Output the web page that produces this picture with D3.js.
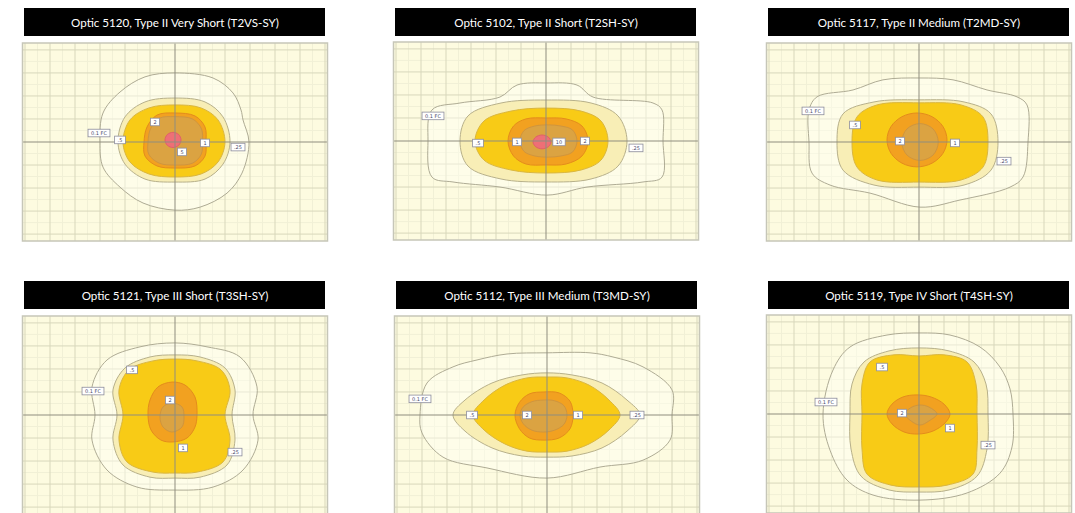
<!DOCTYPE html>
<html>
<head>
<meta charset="utf-8">
<script src="https://cdn.jsdelivr.net/npm/d3@7"></script>
<style>
  html, body { margin: 0; padding: 0; background: #ffffff; }
  svg { display: block; }
</style>
</head>
<body>
<svg id="chart" width="1075" height="513"></svg>
<script>
// Isofootcandle plots for six street-light optics.
// Contour points are in mounting-height units, measured from the luminaire.

const titles = [
  "Optic 5120, Type II Very Short (T2VS-SY)",
  "Optic 5102, Type II Short (T2SH-SY)",
  "Optic 5117, Type II Medium (T2MD-SY)",
  "Optic 5121, Type III Short (T3SH-SY)",
  "Optic 5112, Type III Medium (T3MD-SY)",
  "Optic 5119, Type IV Short (T4SH-SY)"
];

// footcandle level of each contour, outermost first
const fcLevels = ["0.1", "0.25", "0.5", "1", "2", "5"];

// grid lines (mounting heights)
const gridMajorX = [-6, -5, -4, -3, -2, -1, 0, 1, 2, 3, 4, 5, 6];
const gridMajorY = [-4, -3, -2, -1, 0, 1, 2, 3, 4];
const gridMinorX = [-5.5, -4.5, -3.5, -2.5, -1.5, -0.5, 0.5, 1.5, 2.5, 3.5, 4.5, 5.5];
const gridMinorY = [-3.5, -2.5, -1.5, -0.5, 0.5, 1.5, 2.5, 3.5];

// ---- Optic 5120, T2VS ----
const contoursT2VS = [
  [[2.96,0],[2.72,0.96],[2.64,1.39],[2.32,2.13],[1.52,2.78],[0,3.0],[-1.2,2.83],[-2.2,2.17],[-2.88,1.26],[-3.0,0],[-2.88,-1.09],[-2.2,-1.96],[-1.28,-2.65],[0,-2.96],[1.0,-2.83],[2.08,-2.22],[2.68,-1.35]],
  [[2.2,0],[1.92,1.09],[1.2,1.74],[0,1.91],[-1.2,1.74],[-2.0,1.09],[-2.28,0],[-2.0,-0.96],[-1.2,-1.61],[0,-1.74],[1.2,-1.61],[1.92,-0.96]],
  [[2.0,0],[1.72,0.96],[1.04,1.48],[0,1.61],[-1.04,1.48],[-1.8,0.96],[-2.08,0],[-1.8,-0.87],[-1.04,-1.39],[0,-1.52],[1.04,-1.39],[1.72,-0.87]],
  [[1.24,0],[1.2,0.65],[0.8,1.13],[0,1.26],[-0.72,1.17],[-1.12,0.65],[-1.24,0],[-1.2,-0.61],[-0.72,-1.04],[0,-1.13],[0.8,-1.04],[1.2,-0.61]],
  [[1.1,0],[1.06,0.57],[0.7,1.0],[0,1.1],[-0.63,1.03],[-0.98,0.57],[-1.08,0],[-1.05,-0.53],[-0.63,-0.92],[0,-1.0],[0.7,-0.92],[1.05,-0.53]],
  [[0.24,0.09],[0.15,0.32],[-0.08,0.42],[-0.31,0.32],[-0.4,0.09],[-0.31,-0.14],[-0.08,-0.24],[0.15,-0.14]]
];
const labelsT2VS = [
  { text: "0.1 FC", x: -3.04, y: 0.39 },
  { text: ".5", x: -2.2, y: 0.09 },
  { text: "2", x: -0.8, y: 0.87 },
  { text: "1", x: 1.2, y: -0.04 },
  { text: "5", x: 0.28, y: -0.43 },
  { text: ".25", x: 2.52, y: -0.22 }
];

// ---- Optic 5102, T2SH ----
const contoursT2SH = [
  [[4.68,0],[4.64,1.35],[4.28,1.65],[1.88,1.91],[1.24,2.43],[0.04,2.52],[-1.16,2.43],[-1.84,1.91],[-3.44,1.65],[-4.56,1.35],[-4.72,0],[-4.56,-1.57],[-3.72,-1.78],[-1.84,-2.0],[0.04,-2.35],[1.64,-2.0],[3.88,-1.78],[4.64,-1.57]],
  [[3.24,0],[2.88,1.09],[1.8,1.65],[0,1.78],[-1.8,1.65],[-3.12,1.09],[-3.44,0],[-3.12,-1.09],[-1.8,-1.65],[0,-1.78],[1.8,-1.65],[2.88,-1.09]],
  [[2.48,0],[2.2,0.87],[1.4,1.3],[0,1.43],[-1.4,1.3],[-2.48,0.87],[-2.84,0],[-2.48,-0.83],[-1.4,-1.26],[0,-1.39],[1.4,-1.26],[2.2,-0.83]],
  [[1.68,0],[1.44,0.65],[0.8,0.96],[0,1.0],[-0.8,0.96],[-1.3,0.65],[-1.52,0],[-1.3,-0.65],[-0.8,-1.0],[0,-1.04],[0.8,-1.0],[1.44,-0.65]],
  [[1.24,0],[1.06,0.48],[0.6,0.65],[0.1,0.7],[-0.45,0.65],[-0.88,0.45],[-1.04,0],[-0.88,-0.45],[-0.45,-0.65],[0.1,-0.7],[0.6,-0.65],[1.06,-0.48]],
  [[0.2,-0.04],[0.09,0.17],[-0.16,0.26],[-0.41,0.17],[-0.52,-0.04],[-0.41,-0.25],[-0.16,-0.34],[0.09,-0.25]]
];
const labelsT2SH = [
  { text: "0.1 FC", x: -4.52, y: 1.09 },
  { text: ".5", x: -2.72, y: -0.09 },
  { text: "1", x: -1.16, y: -0.04 },
  { text: "10", x: 0.52, y: -0.04 },
  { text: "2", x: 1.56, y: 0 },
  { text: ".25", x: 3.6, y: -0.3 }
];

// ---- Optic 5117, T2MD ----
const contoursT2MD = [
  [[4.36,0],[4.32,1.61],[3.92,1.96],[2.72,2.26],[1.36,2.7],[0.04,2.78],[-1.44,2.7],[-2.64,2.26],[-4.08,1.96],[-4.4,1.39],[-4.4,0],[-4.28,-1.35],[-3.56,-1.87],[-1.96,-2.22],[0.04,-2.83],[1.64,-2.52],[3.64,-1.96],[4.16,-1.52]],
  [[3.16,0],[2.88,1.22],[1.8,1.74],[0,1.83],[-1.8,1.74],[-3.04,1.22],[-3.28,0],[-3.04,-1.22],[-1.8,-1.87],[0,-1.96],[1.8,-1.87],[2.88,-1.22]],
  [[2.76,0],[2.56,1.09],[1.68,1.61],[0,1.7],[-1.68,1.61],[-2.48,1.09],[-2.68,0],[-2.48,-1.09],[-1.68,-1.65],[0,-1.74],[1.68,-1.65],[2.56,-1.09]],
  [[1.12,0.09],[0.96,0.67],[0.52,1.1],[-0.08,1.26],[-0.68,1.1],[-1.12,0.67],[-1.28,0.09],[-1.12,-0.49],[-0.68,-0.92],[-0.08,-1.08],[0.52,-0.92],[0.96,-0.49]],
  [[0.77,0],[0.56,0.57],[0.04,0.8],[-0.48,0.57],[-0.69,0],[-0.48,-0.57],[0.04,-0.8],[0.56,-0.57]]
];
const labelsT2MD = [
  { text: "0.1 FC", x: -4.24, y: 1.35 },
  { text: ".5", x: -2.56, y: 0.74 },
  { text: "2", x: -0.76, y: 0.04 },
  { text: "1", x: 1.44, y: -0.04 },
  { text: ".25", x: 3.4, y: -0.83 }
];

// ---- Optic 5121, T3SH ----
const contoursT3SH = [
  [[3.12,0],[3.28,1.22],[2.6,2.52],[1.28,2.96],[0,3.13],[-1.4,2.96],[-2.72,2.39],[-3.32,1.22],[-3.2,0],[-3.32,-1.09],[-2.72,-2.39],[-1.52,-3.13],[-0.08,-3.26],[1.52,-3.13],[2.72,-2.39],[3.32,-1.09]],
  [[2.28,0],[2.4,1.09],[2.0,2.04],[1.0,2.52],[0,2.61],[-1.0,2.52],[-2.0,2.04],[-2.48,1.09],[-2.32,0],[-2.48,-1.09],[-2.08,-2.17],[-1.0,-2.7],[0,-2.74],[1.0,-2.7],[2.08,-2.17],[2.4,-1.09]],
  [[2.0,0],[2.2,1.09],[1.84,1.96],[0.88,2.35],[0,2.43],[-0.88,2.35],[-1.84,1.96],[-2.24,1.09],[-2.08,0],[-2.24,-1.09],[-1.92,-2.04],[-0.88,-2.48],[0,-2.52],[0.88,-2.48],[1.92,-2.04],[2.2,-1.09]],
  [[0.88,0],[0.8,0.78],[0.4,1.3],[-0.12,1.43],[-0.68,1.22],[-1.0,0.65],[-1.08,0],[-0.96,-0.65],[-0.56,-1.09],[-0.08,-1.17],[0.48,-1.0],[0.8,-0.52]],
  [[0.36,-0.09],[0.28,0.35],[-0.12,0.52],[-0.48,0.35],[-0.6,-0.09],[-0.48,-0.52],[-0.12,-0.74],[0.28,-0.52]]
];
const labelsT3SH = [
  { text: "0.1 FC", x: -3.28, y: 1.04 },
  { text: ".5", x: -1.72, y: 1.96 },
  { text: "2", x: -0.2, y: 0.65 },
  { text: "1", x: 0.32, y: -1.43 },
  { text: ".25", x: 2.4, y: -1.61 }
];

// ---- Optic 5112, T3MD ----
const contoursT3MD = [
  [[5.0,0],[5.0,1.09],[3.84,2.09],[2.64,2.52],[1.72,2.7],[0,2.7],[-1.6,2.65],[-2.8,2.39],[-3.76,2.09],[-4.8,1.39],[-5.08,0],[-5.0,-0.78],[-4.16,-1.83],[-2.4,-2.3],[0,-2.74],[2.12,-2.26],[3.84,-1.96],[4.92,-1.09]],
  [[3.72,0],[3.2,0.65],[2.2,1.39],[1.0,1.74],[0,1.83],[-1.0,1.74],[-2.2,1.39],[-3.28,0.65],[-3.76,0],[-3.28,-0.7],[-2.2,-1.43],[-1.0,-1.78],[0,-1.83],[1.0,-1.78],[2.2,-1.43],[3.2,-0.7]],
  [[2.92,0],[2.48,0.65],[1.68,1.3],[0.8,1.61],[0,1.65],[-0.8,1.61],[-1.68,1.3],[-2.52,0.65],[-2.96,0],[-2.52,-0.65],[-1.68,-1.26],[-0.8,-1.57],[0,-1.61],[0.8,-1.57],[1.68,-1.26],[2.48,-0.65]],
  [[1.04,0],[0.92,0.6],[0.48,0.96],[-0.12,1.0],[-0.7,0.92],[-1.1,0.55],[-1.28,0],[-1.1,-0.6],[-0.7,-1.0],[-0.12,-1.09],[0.48,-1.0],[0.92,-0.6]],
  [[0.8,0],[0.68,0.4],[0.3,0.62],[-0.14,0.65],[-0.6,0.58],[-0.95,0.35],[-1.08,0],[-0.95,-0.38],[-0.6,-0.66],[-0.14,-0.74],[0.3,-0.66],[0.68,-0.4]]
];
const labelsT3MD = [
  { text: "0.1 FC", x: -5.08, y: 0.7 },
  { text: ".5", x: -3.0, y: 0 },
  { text: "2", x: -0.8, y: 0 },
  { text: "1", x: 1.24, y: 0 },
  { text: ".25", x: 3.6, y: 0 }
];

// ---- Optic 5119, T4SH ----
const contoursT4SH = [
  [[3.76,0],[3.64,1.09],[3.24,2.04],[2.44,2.91],[1.24,3.43],[0.04,3.52],[-1.28,3.43],[-2.76,2.91],[-3.44,1.91],[-3.84,0],[-3.56,-1.57],[-2.88,-2.87],[-1.84,-3.52],[0.04,-3.74],[1.92,-3.43],[3.24,-2.57],[3.72,-1.43]],
  [[2.76,0],[2.68,1.3],[2.2,2.26],[1.2,2.74],[0,2.87],[-1.2,2.74],[-2.2,2.26],[-2.68,1.3],[-2.76,0],[-2.72,-1.52],[-2.32,-2.7],[-1.2,-3.3],[0,-3.39],[1.2,-3.3],[2.32,-2.7],[2.72,-1.52]],
  [[2.32,0],[2.28,1.3],[1.92,2.26],[1.0,2.57],[0,2.52],[-1.0,2.57],[-1.96,2.26],[-2.28,1.3],[-2.28,0],[-2.28,-1.52],[-2.08,-2.61],[-1.12,-3.09],[0,-3.17],[1.12,-3.09],[2.16,-2.61],[2.32,-1.52]],
  [[1.24,0],[1.0,0.43],[0.48,0.74],[-0.08,0.83],[-0.64,0.74],[-1.08,0.43],[-1.28,0],[-1.08,-0.43],[-0.6,-0.78],[-0.04,-0.87],[0.56,-0.74],[1.04,-0.39]],
  [[0.72,0],[0.4,0.3],[0.04,0.39],[-0.32,0.28],[-0.56,0],[-0.32,-0.3],[0.04,-0.48],[0.4,-0.3]]
];
const labelsT4SH = [
  { text: "0.1 FC", x: -3.72, y: 0.52 },
  { text: ".5", x: -1.48, y: 2.04 },
  { text: "2", x: -0.68, y: 0.04 },
  { text: "1", x: 1.24, y: -0.61 },
  { text: ".25", x: 2.76, y: -1.35 }
];

// ---------------------------------------------------------------
const panelContours = [contoursT2VS, contoursT2SH, contoursT2MD, contoursT3SH, contoursT3MD, contoursT4SH];
const panelLabels = [labelsT2VS, labelsT2SH, labelsT2MD, labelsT3SH, labelsT3MD, labelsT4SH];

// panel placement on the page: plot centre and title band top
const layout = [
  { cx: 175, cy: 142, titleTop: 8 },
  { cx: 546, cy: 141, titleTop: 8 },
  { cx: 919, cy: 142, titleTop: 8 },
  { cx: 175, cy: 415, titleTop: 281 },
  { cx: 547, cy: 415, titleTop: 281 },
  { cx: 919, cy: 414, titleTop: 281 }
];

// the 0.1 fc area gets only a light wash so the grid still shows through it
const fillByLevel = {
  "0.1": "rgba(255,255,245,0.45)",
  "0.25": "#f8eeb6",
  "0.5": "#f8cb16",
  "1": "#f2a120",
  "2": "#dba342",
  "5": "#ee6f76"
};
const strokeByLevel = {
  "0.1": "#aeab94",
  "0.25": "#b7b08a",
  "0.5": "#d9b640",
  "1": "#e48c1c",
  "2": "#cf953e",
  "5": "#e0606a"
};

const svg = d3.select("#chart");
const halfW = 152.5, halfH = 99;

layout.forEach((p, i) => {
  const x = d3.scaleLinear().domain([-6.1, 6.1]).range([p.cx - halfW, p.cx + halfW]);
  const y = d3.scaleLinear().domain([-4.3, 4.3]).range([p.cy + halfH, p.cy - halfH]);
  const g = svg.append("g");

  // title band
  g.append("rect")
    .attr("x", p.cx - 151).attr("y", p.titleTop)
    .attr("width", 301).attr("height", 28)
    .attr("fill", "#000");
  g.append("text")
    .attr("x", p.cx).attr("y", p.titleTop + 14)
    .attr("text-anchor", "middle")
    .attr("dominant-baseline", "central")
    .attr("fill", "#fff")
    .style("font-family", "Lato, 'Open Sans', sans-serif")
    .style("font-size", "11.6px")
    .text(titles[i]);

  // plot area
  const clipId = "clip" + i;
  g.append("clipPath").attr("id", clipId)
    .append("rect")
    .attr("x", x(-6.1)).attr("y", y(4.3))
    .attr("width", x(6.1) - x(-6.1)).attr("height", y(-4.3) - y(4.3));

  g.append("rect")
    .attr("x", x(-6.1)).attr("y", y(4.3))
    .attr("width", x(6.1) - x(-6.1)).attr("height", y(-4.3) - y(4.3))
    .attr("fill", "#fdfbe0");

  const body = g.append("g").attr("clip-path", `url(#${clipId})`);

  // grid
  body.selectAll(".minx").data(gridMinorX).join("line")
    .attr("x1", d => x(d)).attr("x2", d => x(d))
    .attr("y1", y(4.3)).attr("y2", y(-4.3))
    .attr("stroke", "#f1f0d6").attr("stroke-width", 1);
  body.selectAll(".miny").data(gridMinorY).join("line")
    .attr("y1", d => y(d)).attr("y2", d => y(d))
    .attr("x1", x(-6.1)).attr("x2", x(6.1))
    .attr("stroke", "#f1f0d6").attr("stroke-width", 1);
  body.selectAll(".majx").data(gridMajorX.filter(d => d !== 0)).join("line")
    .attr("x1", d => x(d)).attr("x2", d => x(d))
    .attr("y1", y(4.3)).attr("y2", y(-4.3))
    .attr("stroke", "#d8d7bb").attr("stroke-width", 1);
  body.selectAll(".majy").data(gridMajorY.filter(d => d !== 0)).join("line")
    .attr("y1", d => y(d)).attr("y2", d => y(d))
    .attr("x1", x(-6.1)).attr("x2", x(6.1))
    .attr("stroke", "#d8d7bb").attr("stroke-width", 1);

  // isofootcandle contours, outermost first
  const line = d3.line()
    .x(d => x(d[0])).y(d => y(d[1]))
    .curve(d3.curveCatmullRomClosed.alpha(0.5));

  body.selectAll(".iso").data(panelContours[i]).join("path")
    .attr("d", d => line(d))
    .attr("fill", (d, k) => fillByLevel[fcLevels[k]])
    .attr("stroke", (d, k) => strokeByLevel[fcLevels[k]])
    .attr("stroke-width", 1);

  // street axes through the luminaire
  body.append("line")
    .attr("x1", x(0)).attr("x2", x(0)).attr("y1", y(4.3)).attr("y2", y(-4.3))
    .attr("stroke", "#8f8d7e").attr("stroke-width", 1);
  body.append("line")
    .attr("y1", y(0)).attr("y2", y(0)).attr("x1", x(-6.1)).attr("x2", x(6.1))
    .attr("stroke", "#8f8d7e").attr("stroke-width", 1);

  // contour value tags
  const tags = body.selectAll(".tag").data(panelLabels[i]).join("g")
    .attr("transform", d => `translate(${x(d.x)},${y(d.y)})`);
  tags.append("text")
    .attr("text-anchor", "middle")
    .attr("dominant-baseline", "central")
    .attr("fill", "#4a4a6a")
    .style("font-family", "'DejaVu Sans', sans-serif")
    .style("font-size", "5px")
    .text(d => d.text);
  tags.each(function () {
    const t = d3.select(this).select("text");
    const w = t.node().getComputedTextLength();
    const bw = Math.max(9, w + 6);
    d3.select(this).insert("rect", "text")
      .attr("x", -bw / 2).attr("y", -3.8)
      .attr("width", bw).attr("height", 7.6)
      .attr("fill", "#ffffff")
      .attr("stroke", "#8d8d9c").attr("stroke-width", 0.8);
  });

  // frame
  g.append("rect")
    .attr("x", x(-6.1)).attr("y", y(4.3))
    .attr("width", x(6.1) - x(-6.1)).attr("height", y(-4.3) - y(4.3))
    .attr("fill", "none")
    .attr("stroke", "#c6c6b8").attr("stroke-width", 1.5);
});
</script>
</body>
</html>
